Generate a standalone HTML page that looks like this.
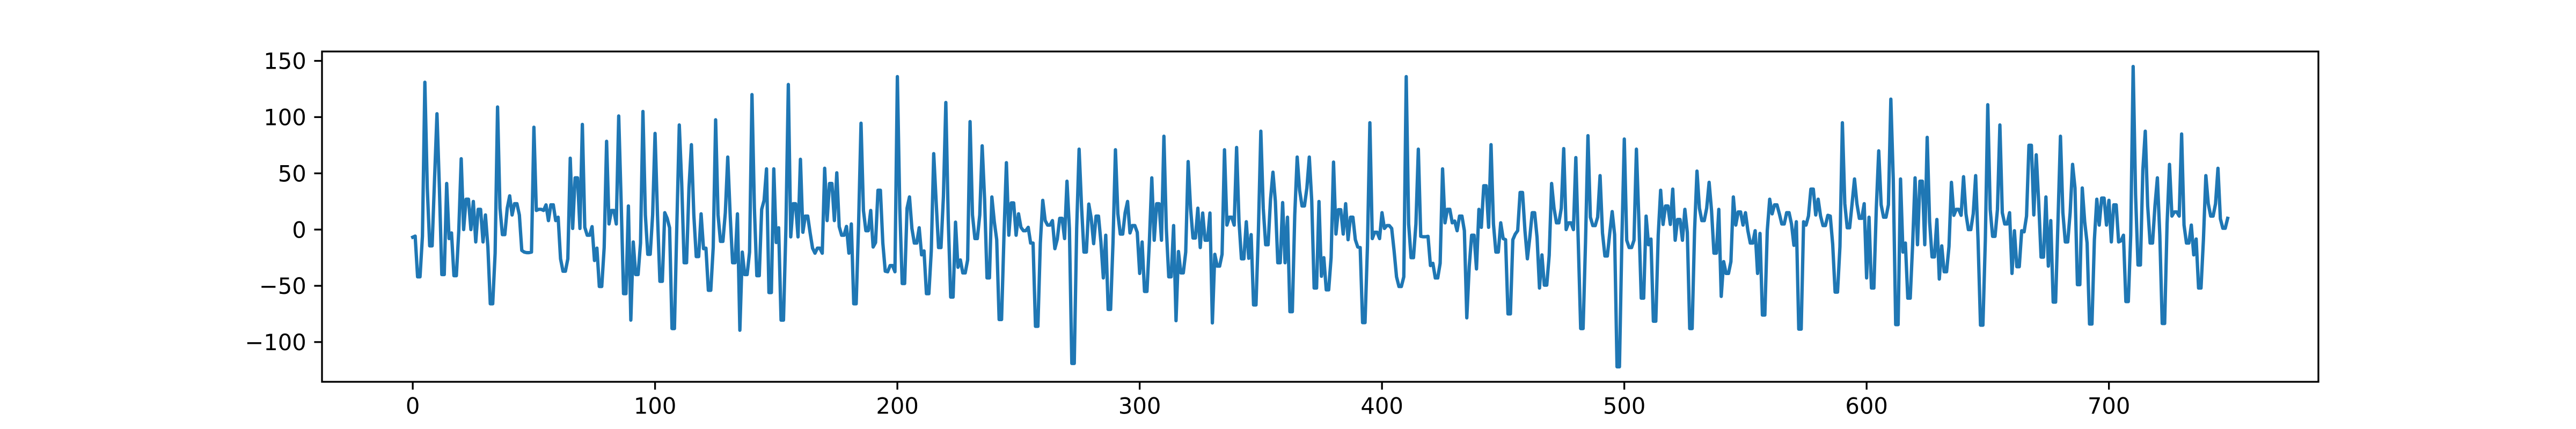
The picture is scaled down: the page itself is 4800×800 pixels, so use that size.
<!DOCTYPE html>
<html lang="en">
<head>
<meta charset="utf-8">
<title>Time series line chart</title>
<style>
  html, body { margin: 0; padding: 0; background: #ffffff; }
  body { width: 4800px; height: 800px; overflow: hidden; }
  svg { display: block; }
  text { font-family: "DejaVu Sans", "Liberation Sans", sans-serif; font-size: 41.67px; fill: #000000; }
</style>
</head>
<body>
<svg id="chart" xmlns="http://www.w3.org/2000/svg" width="4800" height="800" viewBox="0 0 4800 800">
  <rect x="0" y="0" width="4800" height="800" fill="#ffffff"></rect>
  <g id="series"></g>
  <g id="x-axis"></g>
  <g id="y-axis"></g>
  <rect x="600" y="96" width="3720" height="616" fill="none" stroke="#000000" stroke-width="3.33"></rect>
</svg>
<script>
const seriesValues = [
-6.8,-5.8,-42,-42,-6,131,37,-14.5,-14.5,45,
103,37,-40,-40,41,-8,-3,-41,-41,-1,
63,0,27,27,0,25,-11,18,18,-11,
13,-15,-66,-66,-21,109,19,-4.5,-4.5,19,
30,13,23,23,13,-18.5,-20,-20.5,-20.5,-20,
91,17,18,18,17,22,8,22,22,8,
11,-26,-37,-37,-26,63.5,1,46,46,1,
93.5,2,-5,-5,2.6,-27.5,-16.5,-50.6,-50.6,-16,
78.5,5,17,17,5,101,25,-57,-57,21,
-80.5,-11,-40,-40,-12,105,13,-22,-22,13,
85.5,13,-46,-46,15,10,1.6,-88,-88,5,
93,41,-29.5,-29.5,37,75.5,13,-24,-24,14,
-17,-16.5,-54,-54,-16,97.6,13,-10.5,-10.5,15,
64.5,13,-29.5,-29.5,14,-89.5,-20,-40,-40,-20,
120,19,-41,-41,18,26,54,-56,-56,54,
-11.5,1.6,-80.5,-80.5,1,129,-6.5,23,23,-6.5,
62.5,-2.4,12,12,-3,-16.5,-21,-16.5,-16.5,-21,
54.5,8,41,41,8,50.5,2.6,-5,-5,2.8,
-21,5,-66,-66,5,94.6,17,-1,-1,17,
-15.5,-11.5,35,35,-12,-37,-37.5,-32,-32,-37.5,
136,19,-48,-48,19,29,1,-12,-12,1.6,
-22.5,-19,-57,-57,-19,67.5,25,-16,-16,29,
113,9,-60,-60,6.6,-33.5,-27,-38.5,-38.5,-27,
96,13,-8,-8,13,74.5,27,-43,-43,29,
7,-9,-80,-80,-5,59.5,-5,23.7,23.7,-5,
14,2,-1,-1,2,-12,-12,-86,-86,-12,
26,8,4,4,8,-17,-8.5,10,10,-8,
43,1,-119,-119,1,71.5,21,-20,-20,22.7,
10,-12.5,12,12,-11,-43,-5,-71,-71,-11,
71,14,-4,-4,15,25,-3,3.6,3.6,-2.4,
-39,-11,-55,-55,-11,46,-9.5,23,23,-9.5,
83,1,-42,-42,3.6,-81,-19.5,-38.5,-38.5,-20,
60.5,19,-7.5,-7.5,19,-16,14.7,-9.5,-9.5,14.7,
-83,-22,-32.5,-32.5,-22,71,4,11,11,4,
73,7,-26,-26,7,-25.5,-4.5,-67,-67,-1,
87.5,19,-13.5,-13.5,27,51,25,-29.5,-29.5,24,
-29.5,11,-73,-73,13,64.5,35,21,21,37,
64.5,26,-52,-52,25,-41.5,-25,-53.6,-53.6,-25,
60,-4,17.7,17.7,-4,23,-9,11,11,-9,
-15.5,-16,-82.7,-82.7,-15,95,-8,-2.4,-2.4,-8,
15,1,3.6,3.6,1,-19,-42,-50.6,-50.6,-42,
136,5,-25,-25,5,71.5,-6,-6.4,-6.4,-6,
-32,-30,-43,-43,-30,54,6,18,18,6,
7.6,-1,12,12,-1,-78.5,-33,-5,-5,-35,
18,2,39,39,2,75.5,5,-20,-20,6,
-8,-9,-75,-75,-9,-4,-1,33,33,-1,
-26,-7,15,15,-7,-52,-22.5,-49.4,-49.4,-23,
41,19,6,6,19,72,0,6,6,0,
64,-11,-88,-88,-11,83.5,11,3.6,3.6,11,
48,-3,-23.5,-23.5,-3,16,-4.4,-122,-122,-9,
80.5,-9.5,-16,-16,-9.5,71.5,9,-61,-61,12,
-13.5,-8.4,-81.5,-81.5,-5,35,4.6,21,21,4.6,
36,-9.5,9,9,-9.5,18,-2.4,-88,-88,-1,
52,19,8,8,19,42,17,-21,-21,18,
-59.4,-28.5,-39,-39,-28.5,29,4,15.7,15.7,4,
15,-1,-12,-12,-1,-39,-3.4,-76,-76,-1,
27,14,22,22,14,5,5,15,15,5,
-14,7,-88.5,-88.5,7,4,12,36,36,13,
27,12,3.6,3.6,12.7,12,-13,-55.6,-55.6,-15,
95,23,1.6,1.6,23,45,23,10,10,23,
-43,11,-52,-52,19,70,22,11,11,22,
116,45,-84.5,-84.5,45,-20,-12,-61,-61,-13,
46,-13.5,43,43,-13.5,82,7,-24.3,-24.3,9,
-44,-14.5,-37.5,-37.5,-15,42,12.7,18,18,12.7,
47,14,0,0,14,48,-10,-85,-85,-9,
111,18,-6,-6,18,93,15,5,5,15,
-39,-1,-33,-33,-1,-2,12,75,75,13,
66.5,25,-24.5,-24.5,29,-32.5,8,-64.5,-64.5,9,
83,15,-11,-11,15,58,37,-49,-49,37,
7,-12,-84,-84,-9,27,4,28,28,4,
26,-11,22,22,-11,-10,-5,-64,-64,-5,
145,31,-31.5,-31.5,53,87.5,21,-12,-12,21,
46,-5,-83.5,-83.5,5,58,12,15.7,15.7,12,
85,4,-12,-12,4,-22.5,-8.4,-52,-52,-9,
48,23,12,12,23,54.5,9.6,1.2,1.2,10
];
const xTickValues = [0, 100, 200, 300, 400, 500, 600, 700];
const yTickValues = [-100, -50, 0, 50, 100, 150];

const SVG_NS = 'http://www.w3.org/2000/svg';
const plot = { left: 600, right: 4320, top: 96, bottom: 712 };

function domainOf(values) {
  const lo = Math.min.apply(null, values);
  const hi = Math.max.apply(null, values);
  const pad = (hi - lo) * 0.05;
  return [lo - pad, hi + pad];
}

const xDomain = domainOf([0, seriesValues.length - 1]);
const yDomain = domainOf(seriesValues);

function xScale(v) {
  return plot.left + (v - xDomain[0]) / (xDomain[1] - xDomain[0]) * (plot.right - plot.left);
}
function yScale(v) {
  return plot.bottom - (v - yDomain[0]) / (yDomain[1] - yDomain[0]) * (plot.bottom - plot.top);
}
function formatTick(v) {
  return v < 0 ? '\u2212' + Math.abs(v) : String(v);
}

const seriesGroup = document.getElementById('series');
const xAxisGroup = document.getElementById('x-axis');
const yAxisGroup = document.getElementById('y-axis');

const linePath = document.createElementNS(SVG_NS, 'path');


linePath.setAttribute('d', seriesValues.map(function (v, i) {
  return (i === 0 ? 'M' : 'L') + xScale(i).toFixed(2) + ' ' + yScale(v).toFixed(2);
}).join(' '));
linePath.setAttribute('fill', 'none');
linePath.setAttribute('stroke', '#1f77b4');
linePath.setAttribute('stroke-width', '6.25');
linePath.setAttribute('stroke-linejoin', 'round');
linePath.setAttribute('stroke-linecap', 'square');
seriesGroup.appendChild(linePath);

xTickValues.forEach(function (v) {
  const x = xScale(v);
  const tick = document.createElementNS(SVG_NS, 'line');
  
  
  tick.setAttribute('x1', x);
  tick.setAttribute('x2', x);
  tick.setAttribute('y1', plot.bottom);
  tick.setAttribute('y2', plot.bottom + 14.58);
  tick.setAttribute('stroke', '#000000');
  tick.setAttribute('stroke-width', '3.33');
  xAxisGroup.appendChild(tick);

  const label = document.createElementNS(SVG_NS, 'text');
  
  
  label.setAttribute('x', x);
  label.setAttribute('y', plot.bottom + 59.5);
  label.setAttribute('text-anchor', 'middle');
  label.textContent = formatTick(v);
  xAxisGroup.appendChild(label);
});

yTickValues.forEach(function (v) {
  const y = yScale(v);
  const tick = document.createElementNS(SVG_NS, 'line');
  
  
  tick.setAttribute('x1', plot.left - 14.58);
  tick.setAttribute('x2', plot.left);
  tick.setAttribute('y1', y);
  tick.setAttribute('y2', y);
  tick.setAttribute('stroke', '#000000');
  tick.setAttribute('stroke-width', '3.33');
  yAxisGroup.appendChild(tick);

  const label = document.createElementNS(SVG_NS, 'text');
  
  
  label.setAttribute('x', plot.left - 29.2);
  label.setAttribute('y', y + 15.2);
  label.setAttribute('text-anchor', 'end');
  label.textContent = formatTick(v);
  yAxisGroup.appendChild(label);
});
</script>
</body>
</html>
